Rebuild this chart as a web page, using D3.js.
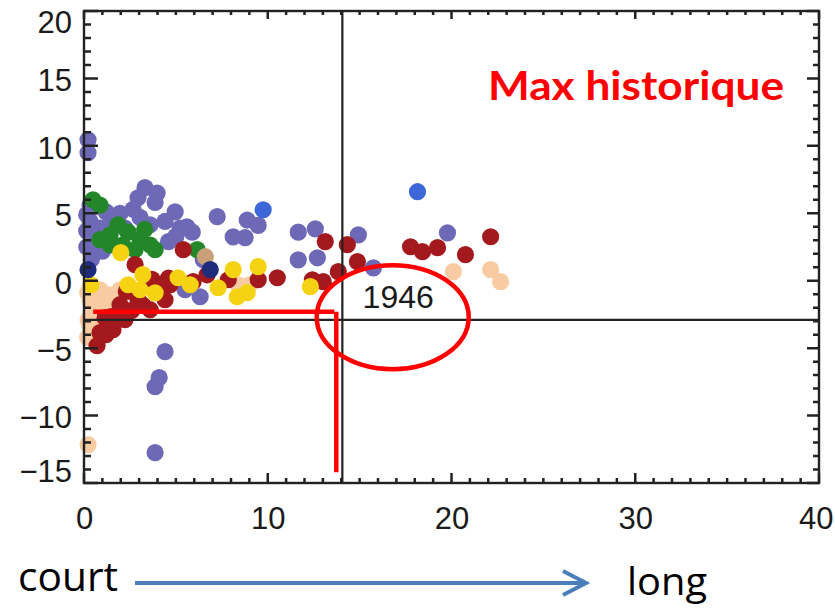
<!DOCTYPE html>
<html>
<head>
<meta charset="utf-8">
<script src="https://cdn.jsdelivr.net/npm/d3@7/dist/d3.min.js"></script>
<style>
  html, body { margin: 0; padding: 0; background: #fff; }
  svg { display: block; }
</style>
</head>
<body>
<svg id="chart" width="835" height="609"></svg>
<script>
// Axis ranges and tick labels
const xDomain = [0, 40];
const yDomain = [-15, 20];
const xTickValues = [0, 10, 20, 30, 40];
const yTickValues = [-15, -10, -5, 0, 5, 10, 15, 20];

// Reference cross-hair (black) and highlighted threshold (red)
const refX = 14.06;
const refY = -2.9;
const markX = 13.73;
const markY = -2.3;
const markXStart = 0.5;
const markYEnd = -14.2;
const ringCenter = [16.8, -2.7];
const ringLabel = "1946";
const titleText = "Max historique";
const leftWord = "court";
const rightWord = "long";

// Scatter series: [x, y]
const purplePts = [
  [0.22, 10.45], [0.22, 9.49], [0.33, 5.6], [0.33, 4.4], [0.44, 3.2], [0.6, 2.15],
  [0.15, 4.9], [0.15, 3.7], [0.15, 2.5], [0.4, 1.6], [1.0, 2.2],
  [0.87, 3.9], [1.2, 5.1], [1.96, 5.0], [2.67, 5.3], [2.94, 6.15], [3.32, 6.9],
  [3.98, 6.5], [3.87, 5.8], [4.96, 5.1], [4.41, 4.4], [5.23, 3.9], [5.89, 3.6],
  [3.6, 4.15], [3.05, 4.7], [1.5, 4.4], [2.23, 3.9], [5.6, 4.0], [4.6, 2.9], [5.0, 3.3],
  [7.25, 4.75], [8.88, 4.5], [9.48, 4.1], [8.12, 3.25], [8.77, 3.2], [11.66, 3.6],
  [12.59, 3.85], [11.66, 1.55], [12.7, 1.7], [14.93, 3.4], [15.75, 0.95], [19.78, 3.55],
  [6.32, -1.19], [5.5, -0.67], [6.49, 1.56],
  [4.41, -5.26], [4.09, -7.19], [3.87, -7.86], [3.87, -12.75]
];
const greenPts = [
  [0.49, 6.0], [0.87, 5.6], [1.42, 3.4], [1.85, 4.15], [2.4, 3.6], [3.05, 3.05],
  [3.6, 2.65], [1.42, 2.65], [2.1, 2.65], [2.78, 2.3], [3.87, 2.3], [6.16, 2.3],
  [3.3, 3.8], [0.87, 3.05]
];
const peachPts = [
  [0.22, -12.16], [0.33, -1.41], [0.87, -0.67], [0.22, -2.89], [0.6, -3.63],
  [1.42, -1.04], [1.96, -0.67], [1.14, -2.15], [0.2, -0.9], [0.5, -2.0], [1.0, -1.5],
  [1.5, -2.2], [0.3, -3.3], [0.2, -4.2], [1.9, -1.3],
  [8.39, -0.3], [9.0, -0.3], [20.1, 0.67], [22.13, 0.82], [22.67, -0.07]
];
const tanPts = [[6.6, 1.78]];
const redPts = [
  [5.4, 2.3], [2.78, 1.19], [10.52, 0.22], [9.48, 0.07], [7.85, 0.07], [6.7, 0.44],
  [5.94, -0.07], [13.13, 2.9], [14.33, 2.67], [14.88, 1.41], [13.84, 0.67],
  [13.02, -0.07], [12.43, 0.07], [17.77, 2.52], [18.42, 2.15], [19.24, 2.45],
  [20.76, 1.93], [22.13, 3.26], [1.14, -2.74], [0.87, -3.85], [0.71, -4.82],
  [1.47, -2.67], [2.94, -1.41], [3.6, -2.15], [4.41, -1.41], [4.69, -0.3],
  [1.96, -1.78], [2.23, -2.89], [1.58, -3.63], [4.14, -0.3], [1.2, -4.0],
  [2.6, -2.2], [3.2, -1.8], [2.3, -0.8], [3.7, 0.1], [4.6, 0.2]
];
const yellowPts = [
  [2.0, 2.08], [3.2, 0.45], [3.87, -0.9], [2.4, -0.3], [0.38, -0.3], [5.12, 0.22],
  [5.78, -0.3], [7.3, -0.52], [8.12, 0.82], [9.48, 1.04], [8.34, -1.19],
  [8.88, -0.89], [12.32, -0.44], [3.05, -0.67]
];
const navyPts = [[6.87, 0.82], [0.22, 0.82]];
const bluePts = [[9.75, 5.26], [18.15, 6.6]];

const series = [
  { pts: purplePts, color: "#6d69b7" },
  { pts: greenPts, color: "#23872a" },
  { pts: peachPts, color: "#f8cba2" },
  { pts: tanPts, color: "#c9a07a" },
  { pts: redPts, color: "#a3191e" },
  { pts: yellowPts, color: "#f6d312" },
  { pts: navyPts, color: "#1f2c7c" },
  { pts: bluePts, color: "#3d66d8" }
];

const plot = { left: 84, right: 819, top: 11, bottom: 483 };
const x = d3.scaleLinear().domain(xDomain).range([plot.left, plot.right]);
const y = d3.scaleLinear().domain(yDomain).range([plot.bottom, plot.top]);

const svg = d3.select("#chart");
const axisColor = "#222";
const tickFont = "'Liberation Sans', Arial, Helvetica, sans-serif";

// Points
const pointsG = svg.append("g");
series.forEach(s => {
  pointsG.selectAll(null).data(s.pts).enter().append("circle")
    .attr("cx", d => x(d[0]))
    .attr("cy", d => y(d[1]))
    .attr("r", 8.6)
    .attr("fill", s.color);
});

// Cross-hair lines
svg.append("line")
  .attr("x1", x(refX)).attr("x2", x(refX))
  .attr("y1", plot.top).attr("y2", plot.bottom)
  .attr("stroke", axisColor).attr("stroke-width", 2.2);
svg.append("line")
  .attr("x1", plot.left).attr("x2", plot.right)
  .attr("y1", y(refY)).attr("y2", y(refY))
  .attr("stroke", axisColor).attr("stroke-width", 2.2);

// Inward tick marks on all four sides (major at each label, minor every unit)
const minorX = d3.range(xDomain[0], xDomain[1] + 1, 1);
const minorY = d3.range(yDomain[0], yDomain[1] + 1, 1);
const tickSegs = [];
minorX.forEach(v => {
  tickSegs.push({ x1: x(v), y1: plot.bottom, x2: x(v), y2: plot.bottom - 5 });
  tickSegs.push({ x1: x(v), y1: plot.top, x2: x(v), y2: plot.top + 4 });
});
xTickValues.forEach(v => {
  tickSegs.push({ x1: x(v), y1: plot.bottom, x2: x(v), y2: plot.bottom - 10 });
  tickSegs.push({ x1: x(v), y1: plot.top, x2: x(v), y2: plot.top + 8 });
});
minorY.forEach(v => {
  tickSegs.push({ x1: plot.left, y1: y(v), x2: plot.left + 7, y2: y(v) });
  tickSegs.push({ x1: plot.right, y1: y(v), x2: plot.right - 6, y2: y(v) });
});
yTickValues.forEach(v => {
  tickSegs.push({ x1: plot.left, y1: y(v), x2: plot.left + 14, y2: y(v) });
  tickSegs.push({ x1: plot.right, y1: y(v), x2: plot.right - 12, y2: y(v) });
});
svg.append("path")
  .attr("d", tickSegs.map(s => `M${s.x1},${s.y1}L${s.x2},${s.y2}`).join(""))
  .attr("fill", "none")
  .attr("stroke", axisColor)
  .attr("stroke-width", 2.5);

// Axis labels
function styleAxis(g) {
  g.select(".domain").remove();
  g.selectAll(".tick line").remove();
  g.selectAll(".tick text")
    .attr("fill", "#1a1a1a")
    .style("font-family", tickFont)
    .style("font-size", "31px");
}
const xAxisG = svg.append("g").attr("transform", `translate(0,${plot.bottom})`)
  .call(d3.axisBottom(x).tickValues(xTickValues).tickSize(0).tickPadding(24).tickFormat(d3.format("d")))
  .call(styleAxis);
// the last label is right-aligned to stay on the page
xAxisG.selectAll(".tick text")
  .attr("text-anchor", d => d === 40 ? "end" : "middle")
  .attr("dx", d => d === 40 ? "0.45em" : 0);
const yAxisG = svg.append("g").attr("transform", `translate(${plot.left},0)`)
  .call(d3.axisLeft(y).tickValues(yTickValues).tickSize(0).tickPadding(12).tickFormat(d3.format("d")))
  .call(styleAxis);
// keep the end labels inside the frame height
yAxisG.selectAll(".tick text").attr("dy", d => d === 20 ? "0.68em" : d === -15 ? "-0.05em" : "0.4em");

// Frame
svg.append("rect")
  .attr("x", plot.left).attr("y", plot.top)
  .attr("width", plot.right - plot.left).attr("height", plot.bottom - plot.top)
  .attr("fill", "none").attr("stroke", axisColor).attr("stroke-width", 2.4);

// Red threshold marks
svg.append("line")
  .attr("x1", x(markXStart)).attr("x2", x(markX) - 2)
  .attr("y1", y(markY)).attr("y2", y(markY))
  .attr("stroke", "#ff0000").attr("stroke-width", 4.5);
svg.append("line")
  .attr("x1", x(markX)).attr("x2", x(markX))
  .attr("y1", y(markY)).attr("y2", y(markYEnd))
  .attr("stroke", "#ff0000").attr("stroke-width", 4.5);

// Year label and ring
svg.append("text")
  .attr("x", x(17.1)).attr("y", y(-2.0))
  .attr("text-anchor", "middle")
  .attr("fill", "#1a1a1a")
  .style("font-family", tickFont).style("font-size", "32px")
  .text(ringLabel);
svg.append("ellipse")
  .attr("cx", x(ringCenter[0])).attr("cy", y(ringCenter[1]))
  .attr("rx", 76).attr("ry", 52)
  .attr("fill", "none").attr("stroke", "#ff0000").attr("stroke-width", 4.5);

// Title inside the plot
svg.append("text")
  .attr("x", 488).attr("y", 100)
  .attr("fill", "#ff0000")
  .attr("textLength", 296).attr("lengthAdjust", "spacingAndGlyphs")
  .style("font-family", "Lato, 'Open Sans', sans-serif")
  .style("font-weight", "bold").style("font-size", "40px")
  .text(titleText);

// Direction arrow below the x axis
svg.append("text")
  .attr("x", 18).attr("y", 591)
  .attr("fill", "#000")
  .attr("textLength", 100).attr("lengthAdjust", "spacingAndGlyphs")
  .style("font-family", "'Open Sans', sans-serif").style("font-size", "40px")
  .text(leftWord);
svg.append("text")
  .attr("x", 627).attr("y", 595)
  .attr("fill", "#000")
  .attr("textLength", 80).attr("lengthAdjust", "spacingAndGlyphs")
  .style("font-family", "'Open Sans', sans-serif").style("font-size", "38px")
  .text(rightWord);
svg.append("line")
  .attr("x1", 135).attr("x2", 585).attr("y1", 583).attr("y2", 583)
  .attr("stroke", "#4a7ebb").attr("stroke-width", 4);
svg.append("path")
  .attr("d", "M563,571 L586,583 L563,595")
  .attr("fill", "none").attr("stroke", "#4a7ebb").attr("stroke-width", 4)
  .attr("stroke-linejoin", "miter");
</script>
</body>
</html>
